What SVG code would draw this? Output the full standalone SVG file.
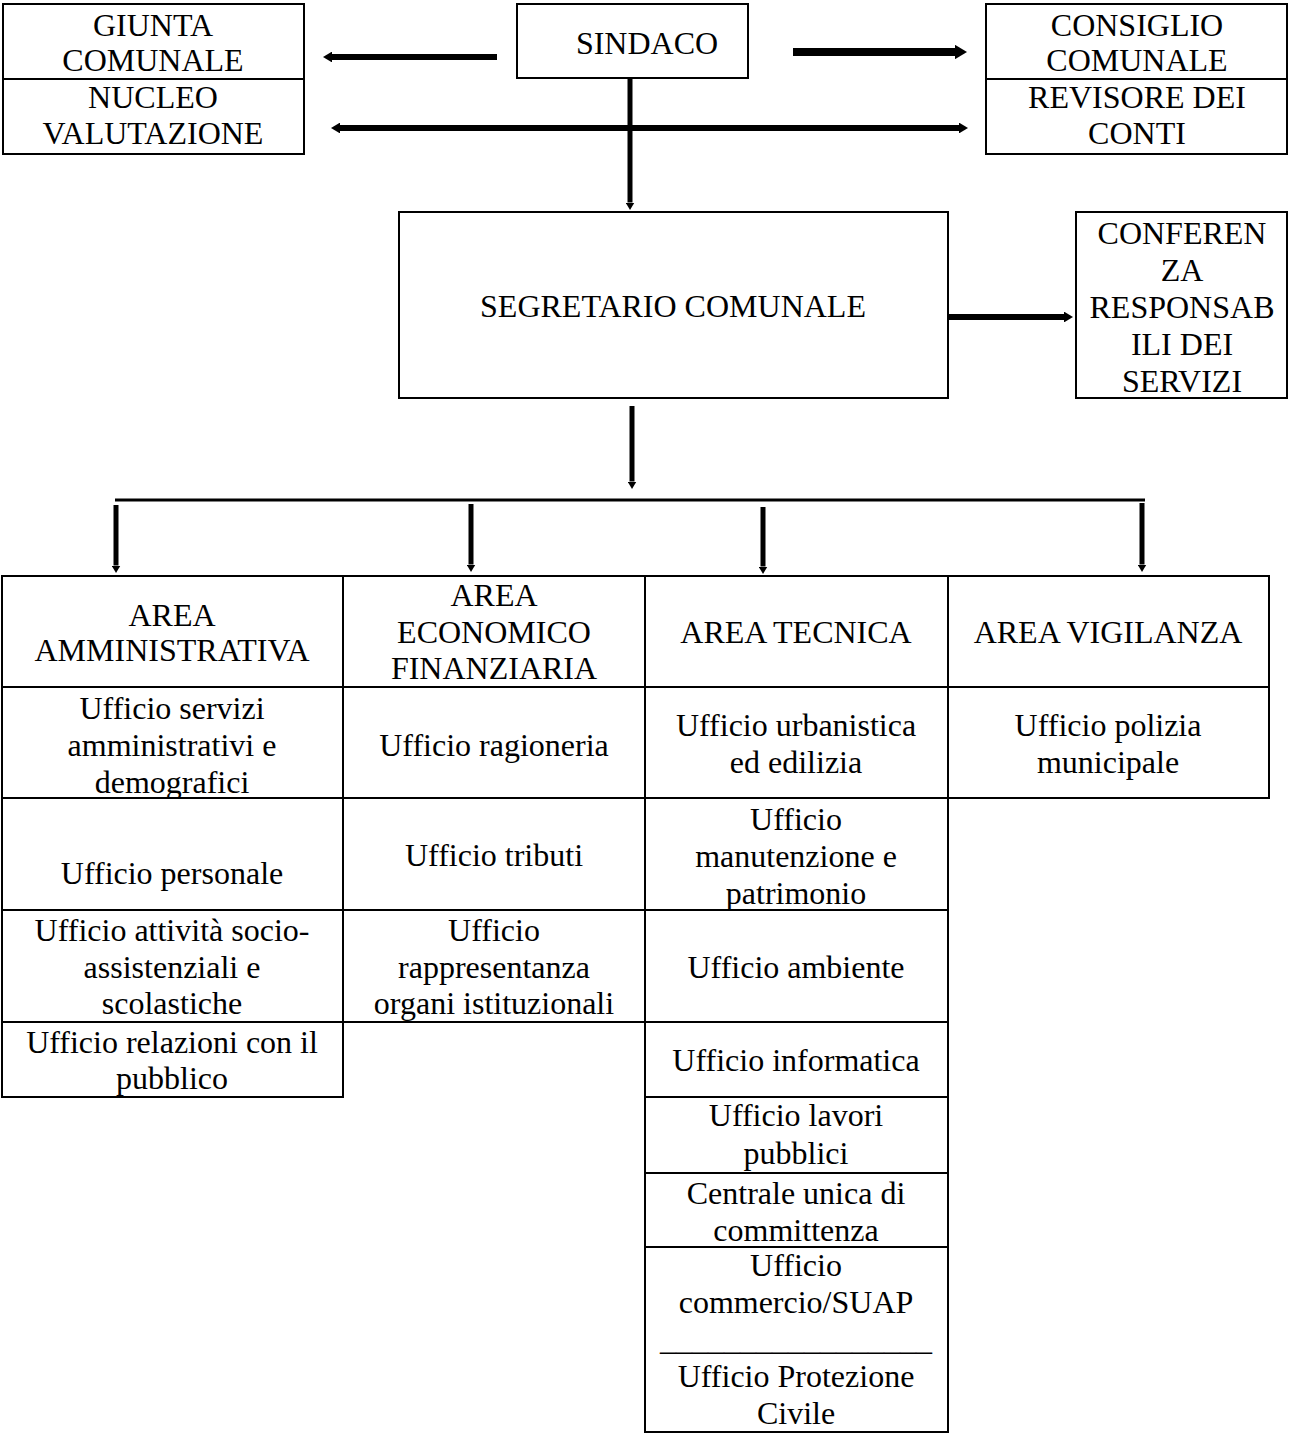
<svg xmlns="http://www.w3.org/2000/svg" width="1290" height="1434" viewBox="0 0 1290 1434">
<style>
.t{font-family:"Liberation Serif","Times New Roman",serif;font-size:32px;text-anchor:middle;fill:#000}
.b{fill:#fff;stroke:#000;stroke-width:2}
.c{fill:none;stroke:#000}
</style>
<defs>
<marker id="ah" viewBox="0 0 10 12" refX="0" refY="6" markerUnits="strokeWidth" markerWidth="1.5" markerHeight="1.8" orient="auto-start-reverse">
<path d="M0,0 L10,6 L0,12 Z" fill="#000"/>
</marker>
</defs>
<rect width="1290" height="1434" fill="#fff"/>

<g id="giunta"><rect class="b" x="3" y="4" width="301" height="75"/><text class="t" x="153" y="36">GIUNTA</text><text class="t" x="153" y="71">COMUNALE</text></g>
<g id="nucleo"><rect class="b" x="3" y="79" width="301" height="75"/><text class="t" x="153" y="108">NUCLEO</text><text class="t" x="153" y="144">VALUTAZIONE</text></g>
<g id="sindaco"><rect class="b" x="517" y="4" width="231" height="74"/><text class="t" x="647" y="54">SINDACO</text></g>
<g id="consiglio"><rect class="b" x="986" y="4" width="301" height="75"/><text class="t" x="1137" y="36">CONSIGLIO</text><text class="t" x="1137" y="71">COMUNALE</text></g>
<g id="revisore"><rect class="b" x="986" y="79" width="301" height="75"/><text class="t" x="1137" y="108">REVISORE DEI</text><text class="t" x="1137" y="144">CONTI</text></g>
<g id="segretario"><rect class="b" x="399" y="212" width="549" height="186"/><text class="t" x="673" y="317">SEGRETARIO COMUNALE</text></g>
<g id="conferenza"><rect class="b" x="1076" y="212" width="211" height="186"/>
<text class="t" x="1182" y="244">CONFEREN</text><text class="t" x="1182" y="281">ZA</text><text class="t" x="1182" y="318">RESPONSAB</text><text class="t" x="1182" y="355">ILI DEI</text><text class="t" x="1182" y="392">SERVIZI</text></g>

<g id="connectors">
<line class="c" x1="497" y1="57" x2="332" y2="57" stroke-width="6" marker-end="url(#ah)"/>
<line class="c" x1="793" y1="52" x2="955" y2="52" stroke-width="8" marker-end="url(#ah)"/>
<line class="c" x1="340" y1="128" x2="959" y2="128" stroke-width="6" marker-start="url(#ah)" marker-end="url(#ah)"/>
<line class="c" x1="630" y1="78" x2="630" y2="202.5" stroke-width="5" marker-end="url(#ah)"/>
<line class="c" x1="948" y1="317" x2="1064" y2="317" stroke-width="6" marker-end="url(#ah)"/>
<line class="c" x1="632" y1="406" x2="632" y2="481.5" stroke-width="5" marker-end="url(#ah)"/>
<line class="c" x1="115" y1="500" x2="1145" y2="500" stroke-width="3"/>
<line class="c" x1="116" y1="505" x2="116" y2="565.5" stroke-width="5" marker-end="url(#ah)"/>
<line class="c" x1="471" y1="504" x2="471" y2="564.5" stroke-width="5" marker-end="url(#ah)"/>
<line class="c" x1="763" y1="507" x2="763" y2="566.5" stroke-width="5" marker-end="url(#ah)"/>
<line class="c" x1="1142" y1="503" x2="1142" y2="564.5" stroke-width="5" marker-end="url(#ah)"/>
</g>

<g id="area-amministrativa"><rect class="b" x="2" y="576" width="341" height="111"/><text class="t" x="172" y="626">AREA</text><text class="t" x="172" y="661">AMMINISTRATIVA</text></g>
<g id="area-economico"><rect class="b" x="343" y="576" width="302" height="111"/><text class="t" x="494" y="606">AREA</text><text class="t" x="494" y="643">ECONOMICO</text><text class="t" x="494" y="679">FINANZIARIA</text></g>
<g id="area-tecnica"><rect class="b" x="645" y="576" width="303" height="111"/><text class="t" x="796" y="643">AREA TECNICA</text></g>
<g id="area-vigilanza"><rect class="b" x="948" y="576" width="321" height="111"/><text class="t" x="1108" y="643">AREA VIGILANZA</text></g>

<g id="uff-servizi"><rect class="b" x="2" y="687" width="341" height="111"/><text class="t" x="172" y="719">Ufficio servizi</text><text class="t" x="172" y="756">amministrativi e</text><text class="t" x="172" y="793">demografici</text></g>
<g id="uff-personale"><rect class="b" x="2" y="798" width="341" height="112"/><text class="t" x="172" y="884">Ufficio personale</text></g>
<g id="uff-socio"><rect class="b" x="2" y="910" width="341" height="112"/><text class="t" x="172" y="941">Ufficio attività socio-</text><text class="t" x="172" y="978">assistenziali e</text><text class="t" x="172" y="1014">scolastiche</text></g>
<g id="uff-relazioni"><rect class="b" x="2" y="1022" width="341" height="75"/><text class="t" x="172" y="1053">Ufficio relazioni con il</text><text class="t" x="172" y="1089">pubblico</text></g>

<g id="uff-ragioneria"><rect class="b" x="343" y="687" width="302" height="111"/><text class="t" x="494" y="756">Ufficio ragioneria</text></g>
<g id="uff-tributi"><rect class="b" x="343" y="798" width="302" height="112"/><text class="t" x="494" y="866">Ufficio tributi</text></g>
<g id="uff-rappresentanza"><rect class="b" x="343" y="910" width="302" height="112"/><text class="t" x="494" y="941">Ufficio</text><text class="t" x="494" y="978">rappresentanza</text><text class="t" x="494" y="1014">organi istituzionali</text></g>

<g id="uff-urbanistica"><rect class="b" x="645" y="687" width="303" height="111"/><text class="t" x="796" y="736">Ufficio urbanistica</text><text class="t" x="796" y="773">ed edilizia</text></g>
<g id="uff-manutenzione"><rect class="b" x="645" y="798" width="303" height="112"/><text class="t" x="796" y="830">Ufficio</text><text class="t" x="796" y="867">manutenzione e</text><text class="t" x="796" y="904">patrimonio</text></g>
<g id="uff-ambiente"><rect class="b" x="645" y="910" width="303" height="112"/><text class="t" x="796" y="978">Ufficio ambiente</text></g>
<g id="uff-informatica"><rect class="b" x="645" y="1022" width="303" height="75"/><text class="t" x="796" y="1071">Ufficio informatica</text></g>
<g id="uff-lavori"><rect class="b" x="645" y="1097" width="303" height="76"/><text class="t" x="796" y="1126">Ufficio lavori</text><text class="t" x="796" y="1164">pubblici</text></g>
<g id="centrale"><rect class="b" x="645" y="1173" width="303" height="74"/><text class="t" x="796" y="1204">Centrale unica di</text><text class="t" x="796" y="1241">committenza</text></g>
<g id="uff-commercio"><rect class="b" x="645" y="1247" width="303" height="185"/><text class="t" x="796" y="1276">Ufficio</text><text class="t" x="796" y="1313">commercio/SUAP</text><text class="t" x="796" y="1350">_________________</text><text class="t" x="796" y="1387">Ufficio Protezione</text><text class="t" x="796" y="1424">Civile</text></g>

<g id="uff-polizia"><rect class="b" x="948" y="687" width="321" height="111"/><text class="t" x="1108" y="736">Ufficio polizia</text><text class="t" x="1108" y="773">municipale</text></g>
</svg>
